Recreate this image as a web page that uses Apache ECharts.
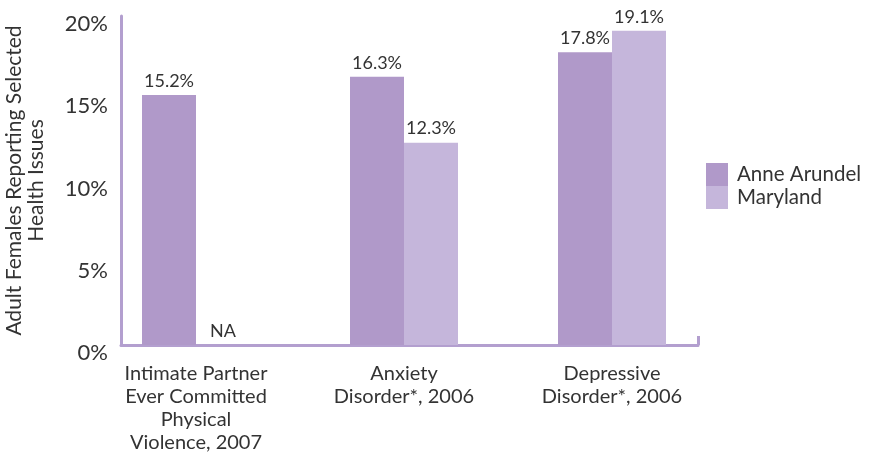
<!DOCTYPE html>
<html>
<head>
<meta charset="utf-8">
<script src="https://cdn.jsdelivr.net/npm/echarts@6/dist/echarts.min.js"></script>
<style>
  html, body { margin: 0; padding: 0; background: #ffffff; }
  #chart { width: 875px; height: 458px; }
</style>
</head>
<body>
<div id="chart"></div>
<script>
// Survey measures shown on the category axis
const categories = [
  'Intimate Partner\nEver Committed\nPhysical\nViolence, 2007',
  'Anxiety\nDisorder*, 2006',
  'Depressive\nDisorder*, 2006'
];
// Percent of adult females reporting each issue (null = not available)
const anneArundel = [15.2, 16.3, 17.8];
const maryland = [null, 12.3, 19.1];
const seriesNames = ['Anne Arundel', 'Maryland'];
const yTicks = [0, 5, 10, 15, 20];

const FONT = 'Lato, "Open Sans", sans-serif';
const TEXT = '#333333';
const AXIS = '#b39fcf';
const C1 = '#b099c9';
const C2 = '#c5b6db';

function toItems(values) {
  return values.map(v => v === null
    ? { value: 0, label: { formatter: 'NA' } }
    : v);
}

const chart = echarts.init(document.getElementById('chart'));
chart.setOption({
  animation: false,
  textStyle: { fontFamily: FONT },
  grid: [
    // plotting area for the bars (one band per measure)
    { left: 92, right: 159, top: 16, bottom: 113, outerBoundsMode: 'none', containLabel: false },
    // frame carrying the visible axis lines and percent labels
    { left: 121, right: 177, top: 16, bottom: 113, outerBoundsMode: 'none', containLabel: false }
  ],
  legend: {
    orient: 'vertical',
    left: 706,
    top: 163,
    padding: 0,
    itemWidth: 22,
    itemHeight: 23,
    itemGap: 0,
    icon: 'rect',
    data: seriesNames,
    textStyle: { fontFamily: FONT, fontSize: 20.5, color: TEXT, padding: [0, 0, 0, 4] }
  },
  xAxis: [
    {
      type: 'category',
      gridIndex: 0,
      data: categories,
      axisLine: { show: false },
      axisTick: { show: false },
      axisLabel: {
        fontFamily: FONT, fontSize: 20, color: TEXT,
        lineHeight: 23, margin: 17, interval: 0
      }
    },
    {
      type: 'category',
      gridIndex: 1,
      data: [''],
      axisLine: { show: true, lineStyle: { color: AXIS, width: 3 } },
      axisTick: { show: true, inside: true, length: 9, lineStyle: { color: AXIS, width: 3 } },
      axisLabel: { show: false }
    }
  ],
  yAxis: [
    { type: 'value', gridIndex: 0, min: 0, max: 20, interval: 5, show: false },
    {
      type: 'value',
      gridIndex: 1,
      min: yTicks[0],
      max: yTicks[yTicks.length - 1],
      interval: 5,
      name: 'Adult Females Reporting Selected\nHealth Issues',
      nameLocation: 'middle',
      nameGap: 74,
      nameTextStyle: { fontFamily: FONT, fontSize: 21, color: TEXT, lineHeight: 22 },
      axisLine: { show: true, lineStyle: { color: AXIS, width: 3 } },
      axisTick: { show: false },
      splitLine: { show: false },
      axisLabel: {
        fontFamily: FONT, fontSize: 22, color: TEXT, margin: 13,
        verticalAlign: 'top', lineHeight: 16,
        formatter: v => v + '%'
      }
    }
  ],
  series: [
    {
      name: seriesNames[0],
      type: 'bar',
      xAxisIndex: 0, yAxisIndex: 0,
      data: toItems(anneArundel),
      barWidth: 54,
      barGap: '0%',
      itemStyle: { color: C1 },
      label: {
        show: true, position: 'top', distance: 5,
        fontFamily: FONT, fontSize: 18, color: TEXT,
        formatter: p => p.value.toFixed(1) + '%'
      }
    },
    {
      name: seriesNames[1],
      type: 'bar',
      xAxisIndex: 0, yAxisIndex: 0,
      data: toItems(maryland),
      barWidth: 54,
      barGap: '0%',
      itemStyle: { color: C2 },
      label: {
        show: true, position: 'top', distance: 5,
        fontFamily: FONT, fontSize: 18, color: TEXT,
        formatter: p => p.value.toFixed(1) + '%'
      }
    }
  ]
});
</script>
</body>
</html>
